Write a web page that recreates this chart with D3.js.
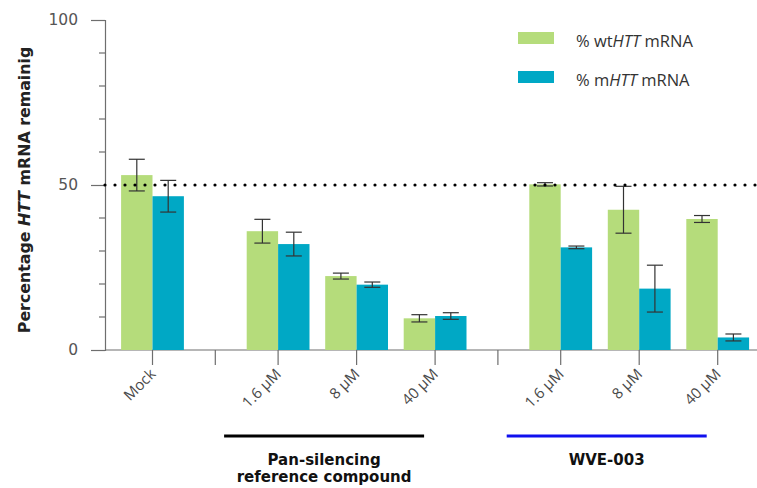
<!DOCTYPE html>
<html>
<head>
<meta charset="utf-8">
<script src="https://cdn.jsdelivr.net/npm/d3@7"></script>
<style>
  html, body { margin: 0; padding: 0; background: #fff; }
  svg { display: block; }
</style>
</head>
<body>
<svg id="chart" width="757" height="488"></svg>
<script>
// Treatment conditions along the x axis, and the group each one belongs to
const categories = ["Mock", "1.6 µM", "8 µM", "40 µM", "1.6 µM", "8 µM", "40 µM"];
const groupIndex = [0, 1, 1, 1, 2, 2, 2];
const groupNames = [null, ["Pan-silencing", "reference compound"], ["WVE-003"]];

// % mRNA remaining (mean) and error bar half-widths
const wtValues  = [53.0, 36.0, 22.4, 9.6, 50.2, 42.5, 39.7];
const wtErrors  = [4.8, 3.6, 0.9, 1.1, 0.5, 7.1, 1.05];
const mValues   = [46.6, 32.1, 19.8, 10.3, 31.1, 18.6, 3.8];
const mErrors   = [4.8, 3.6, 0.8, 1.0, 0.4, 7.1, 1.05];

const yTicks = [0, 50, 100];
const referenceLevel = 50;

const svg = d3.select("#chart");

const green = "#b5dc7b";
const blue = "#00a8c5";
const axisColor = "#6e6e6e";

// slot position: category index plus a spacer between treatment groups
const slot = categories.map((c, i) => i + groupIndex[i] * 0.6);

const x = d3.scaleLinear().domain([0, 7.2]).range([152.5, 717.7]);
const y = d3.scaleLinear().domain([0, 100]).range([350, 20]);
const barW = x(0.4) - x(0);

// Y axis
const yAxis = d3.axisLeft(y).tickValues(yTicks).tickSize(14).tickPadding(13).tickFormat(d3.format("d"));
const gy = svg.append("g").attr("transform", "translate(105,0)").call(yAxis);
gy.select(".domain").attr("stroke", axisColor).attr("stroke-width", 1.2);
gy.selectAll(".tick line").attr("stroke", axisColor).attr("stroke-width", 1.2);
gy.selectAll(".tick text").attr("fill", "#555").style("font-family", "DejaVu Sans, Verdana, sans-serif").style("font-size", "15.5px");
// minor ticks every 10
gy.selectAll(".minor").data(d3.range(10, 100, 10).filter(v => v !== 50))
  .enter().append("line")
  .attr("x1", -6).attr("x2", 0)
  .attr("y1", d => y(d)).attr("y2", d => y(d))
  .attr("stroke", axisColor).attr("stroke-width", 1.2);

// X axis line
svg.append("line")
  .attr("x1", 105).attr("x2", 757)
  .attr("y1", y(0)).attr("y2", y(0))
  .attr("stroke", axisColor).attr("stroke-width", 1.2);

// category ticks plus separators between groups
const sepSlots = [];
for (let i = 1; i < categories.length; i++) {
  if (groupIndex[i] !== groupIndex[i - 1]) sepSlots.push((slot[i] + slot[i - 1]) / 2);
}
svg.selectAll(".xtick").data(slot.concat(sepSlots)).enter().append("line")
  .attr("x1", d => x(d)).attr("x2", d => x(d))
  .attr("y1", y(0)).attr("y2", y(0) + 15)
  .attr("stroke", axisColor).attr("stroke-width", 1.2);

// rotated category labels
svg.selectAll(".xlabel").data(categories).enter().append("text")
  .attr("transform", (d, i) => `translate(${x(slot[i]) + 4},${y(0) + 25}) rotate(-45)`)
  .attr("text-anchor", "end")
  .attr("fill", "#4a4a4a")
  .style("font-family", "Open Sans, sans-serif")
  .style("font-size", "15px")
  .text(d => d);

// Bars
const bars = svg.append("g");
bars.selectAll(".wt").data(wtValues).enter().append("rect")
  .attr("x", (d, i) => x(slot[i]) - barW)
  .attr("y", d => y(d))
  .attr("width", barW)
  .attr("height", d => y(0) - y(d))
  .attr("fill", green);
bars.selectAll(".m").data(mValues).enter().append("rect")
  .attr("x", (d, i) => x(slot[i]))
  .attr("y", d => y(d))
  .attr("width", barW)
  .attr("height", d => y(0) - y(d))
  .attr("fill", blue);

// Error bars
function errorBars(values, errors, offset) {
  const g = svg.append("g").attr("stroke", "#333").attr("stroke-width", 1.2);
  values.forEach((v, i) => {
    const cx = x(slot[i]) + offset;
    const hi = y(v + errors[i]), lo = y(v - errors[i]);
    g.append("line").attr("x1", cx).attr("x2", cx).attr("y1", hi).attr("y2", lo);
    g.append("line").attr("x1", cx - 8).attr("x2", cx + 8).attr("y1", hi).attr("y2", hi);
    g.append("line").attr("x1", cx - 8).attr("x2", cx + 8).attr("y1", lo).attr("y2", lo);
  });
}
errorBars(wtValues, wtErrors, -barW / 2);
errorBars(mValues, mErrors, barW / 2);

// 50% reference line
svg.append("line")
  .attr("x1", 105).attr("x2", 757)
  .attr("y1", y(referenceLevel)).attr("y2", y(referenceLevel))
  .attr("stroke", "#000").attr("stroke-width", 3.2)
  .attr("stroke-linecap", "round")
  .attr("stroke-dasharray", "0 10");

// Y axis title
const yTitle = svg.append("text")
  .attr("transform", `translate(30,190) rotate(-90)`)
  .attr("text-anchor", "middle")
  .attr("fill", "#222")
  .style("font-family", "DejaVu Sans, Verdana, sans-serif")
  .style("font-weight", "bold")
  .style("font-size", "15.8px");
yTitle.append("tspan").text("Percentage ");
yTitle.append("tspan").style("font-style", "italic").text("HTT");
yTitle.append("tspan").text(" mRNA remainig");

// Group brackets and names under the axis
const groupColors = [null, "#000", "#1010ee"];
[1, 2].forEach(gIdx => {
  const members = slot.filter((s, i) => groupIndex[i] === gIdx);
  const x0 = x(d3.min(members)) - 54, x1 = x(d3.max(members)) - 11;
  svg.append("line")
    .attr("x1", x0).attr("x2", x1).attr("y1", 436).attr("y2", 436)
    .attr("stroke", groupColors[gIdx]).attr("stroke-width", 3);
  const t = svg.append("text")
    .attr("text-anchor", "middle")
    .attr("fill", "#111")
    .style("font-family", "DejaVu Sans, Verdana, sans-serif")
    .style("font-weight", "bold")
    .style("font-size", "15px");
  groupNames[gIdx].forEach((line, k) => {
    t.append("tspan").attr("x", (x0 + x1) / 2).attr("y", 465 + k * 17).text(line);
  });
});

// Legend
const legend = svg.append("g").attr("transform", "translate(518,32)");
const legendItems = [
  { color: green, parts: ["% wt", "HTT", " mRNA"] },
  { color: blue, parts: ["% m", "HTT", " mRNA"] }
];
legendItems.forEach((item, i) => {
  const g = legend.append("g").attr("transform", `translate(0,${i * 39})`);
  g.append("rect").attr("width", 36).attr("height", 12).attr("fill", item.color);
  const t = g.append("text").attr("x", 58).attr("y", 14.5)
    .attr("fill", "#333")
    .style("font-family", "Open Sans, sans-serif")
    .style("font-size", "16.5px");
  item.parts.forEach((p, k) => {
    const ts = t.append("tspan").text(p);
    if (k === 1) ts.style("font-style", "italic");
  });
});
</script>
</body>
</html>
